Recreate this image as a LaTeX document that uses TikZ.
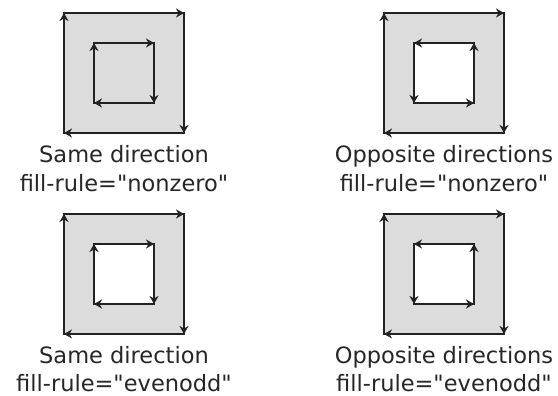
\documentclass[tikz,border=0pt]{standalone}
\usepackage{fontspec}
\setmainfont{DejaVu Sans}[Ligatures=TeXOff]
\usetikzlibrary{arrows.meta}
\definecolor{ringgray}{RGB}{220,220,220}
\definecolor{ink}{RGB}{34,34,34}
\definecolor{txt}{RGB}{38,38,38}
\newcommand\mkcorners[3]{%
  \begin{scope}[shift={(#2,#3)}]
    \coordinate (#1o1) at (64,13);
    \coordinate (#1o2) at (184,13);
    \coordinate (#1o3) at (184,133);
    \coordinate (#1o4) at (64,133);
    \coordinate (#1i1) at (94,43);
    \coordinate (#1i2) at (154,43);
    \coordinate (#1i3) at (154,103);
    \coordinate (#1i4) at (94,103);
  \end{scope}}
\begin{document}
\begin{tikzpicture}[x=1pt,y=-1pt,
  edge/.style={draw=ink,line width=1.9pt},
  tipped/.style={draw=ink,line width=1.9pt,-{Stealth[length=8pt,width=9pt,inset=2.5pt]}},
  caption/.style={anchor=base,text=txt,inner sep=0pt,font=\fontsize{22.5}{27}\selectfont}]
\useasboundingbox (0,0) rectangle (558,396);
\mkcorners{A}{0}{0}
\mkcorners{B}{320}{0}
\mkcorners{C}{0}{201}
\mkcorners{D}{320}{201}
% fills
\fill[ringgray] (Ao1)--(Ao2)--(Ao3)--(Ao4)--cycle (Ai1)--(Ai2)--(Ai3)--(Ai4)--cycle;
\fill[ringgray] (Bo1)--(Bo2)--(Bo3)--(Bo4)--cycle (Bi2)--(Bi1)--(Bi4)--(Bi3)--cycle;
\fill[ringgray,even odd rule] (Co1)--(Co2)--(Co3)--(Co4)--cycle (Ci1)--(Ci2)--(Ci3)--(Ci4)--cycle;
\fill[ringgray,even odd rule] (Do1)--(Do2)--(Do3)--(Do4)--cycle (Di2)--(Di1)--(Di4)--(Di3)--cycle;
% outlines
\foreach \p in {A,B,C,D}{
  \draw[edge] (\p o1)--(\p o2)--(\p o3)--(\p o4)--cycle;
  \draw[edge] (\p i1)--(\p i2)--(\p i3)--(\p i4)--cycle;
  \draw[tipped] (\p o1)--(\p o2);
  \draw[tipped] (\p o2)--(\p o3);
  \draw[tipped] (\p o3)--(\p o4);
  \draw[tipped] (\p o4)--(\p o1);
}
% inner, same direction
\foreach \p in {A,C}{
  \draw[tipped] (\p i1)--(\p i2);
  \draw[tipped] (\p i2)--(\p i3);
  \draw[tipped] (\p i3)--(\p i4);
  \draw[tipped] (\p i4)--(\p i1);
}
% inner, opposite direction
\foreach \p in {B,D}{
  \draw[tipped] (\p i2)--(\p i1);
  \draw[tipped] (\p i1)--(\p i4);
  \draw[tipped] (\p i4)--(\p i3);
  \draw[tipped] (\p i3)--(\p i2);
}
% captions
\node[caption] (capA1) at (124,163) {Same direction};
\node[caption] (capA2) at (124,192) {fill-rule="nonzero"};
\node[caption] (capB1) at (444,163) {Opposite directions};
\node[caption] (capB2) at (444,192) {fill-rule="nonzero"};
\node[caption] (capC1) at (124,363) {Same direction};
\node[caption] (capC2) at (124,391) {fill-rule="evenodd"};
\node[caption] (capD1) at (444,363) {Opposite directions};
\node[caption] (capD2) at (444,391) {fill-rule="evenodd"};
\end{tikzpicture}
\end{document}
